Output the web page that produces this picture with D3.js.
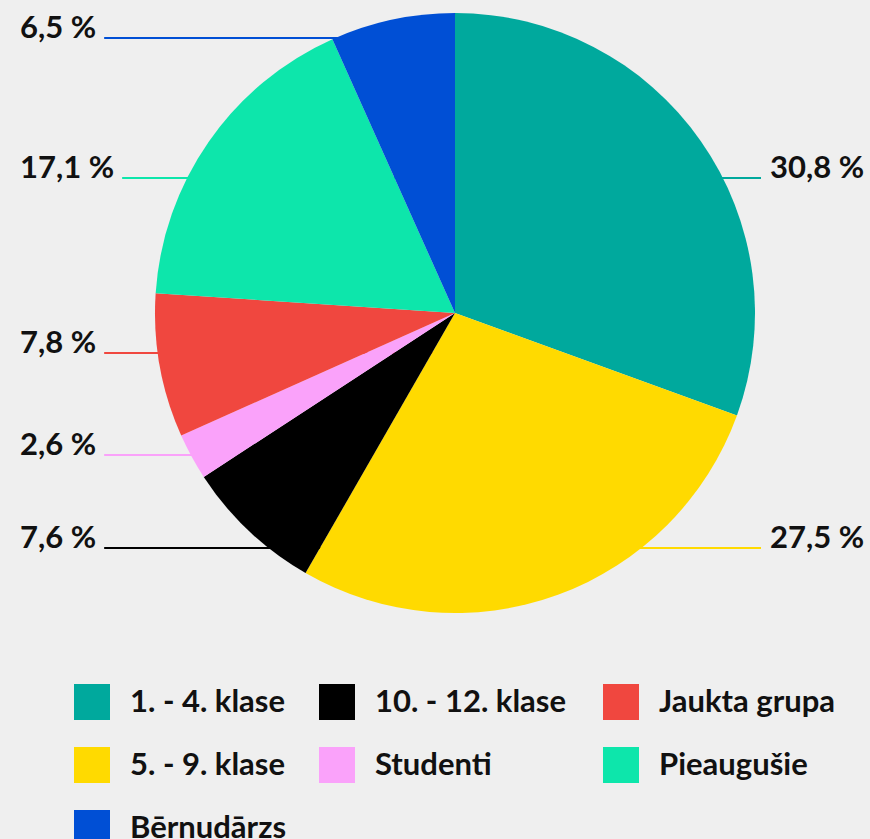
<!DOCTYPE html>
<html>
<head>
<meta charset="utf-8">
<script src="https://cdn.jsdelivr.net/npm/d3@7"></script>
<style>
  html, body { margin: 0; padding: 0; background: #efefef; }
  svg { display: block; font-family: Lato, "Noto Sans", sans-serif; font-weight: 700; }
</style>
</head>
<body>
<div id="chart"></div>
<script>
// data (clockwise from 12 o'clock)
var categories = ["1. - 4. klase", "5. - 9. klase", "10. - 12. klase", "Studenti", "Jaukta grupa", "Pieaugušie", "Bērnudārzs"];
// slice shares as drawn (measured from the slice edges)
var values = [30.55, 27.75, 7.5, 2.5, 7.75, 17.25, 6.7];
// printed labels
var valueLabels = ["30,8 %", "27,5 %", "7,6 %", "2,6 %", "7,8 %", "17,1 %", "6,5 %"];
var colors = ["#00a99d", "#ffda00", "#000000", "#faa2fa", "#f0473f", "#0de6ab", "#004fd5"];
var legendOrder = ["1. - 4. klase", "10. - 12. klase", "Jaukta grupa", "5. - 9. klase", "Studenti", "Pieaugušie", "Bērnudārzs"];

// label rows (offset from pie centre), placed by hand like the original
var labelOffsetY = [-135, 235, 235, 142, 40, -135, -275];

var width = 870, height = 839;
var cx = 455, cy = 313, radius = 300;

var svg = d3.select("#chart")
  .append("svg")
    .attr("width", width)
    .attr("height", height);

var pie = d3.pie().sort(null).value(d => d.value);
var arc = d3.arc().innerRadius(0).outerRadius(radius);

var data = categories.map((c, i) => ({
  name: c, value: values[i], label: valueLabels[i], color: colors[i], dy: labelOffsetY[i]
}));
var arcs = pie(data);

// leader lines + labels (drawn first so the pie sits on top)
var labels = svg.append("g");
arcs.forEach(a => {
  var mid = (a.startAngle + a.endAngle) / 2;
  var right = Math.sin(mid) > 0;
  var y = cy + a.data.dy;
  var t = labels.append("text")
    .attr("y", y)
    .attr("font-size", 31)
    .attr("fill", "#111")
    .text(a.data.label);
  if (right) {
    t.attr("x", 770).attr("text-anchor", "start");
    labels.insert("line", "text")
      .attr("x1", cx).attr("x2", 761)
      .attr("y1", y).attr("y2", y)
      .attr("stroke", a.data.color).attr("stroke-width", 2.2);
  } else {
    t.attr("x", 20).attr("text-anchor", "start");
    var len = t.node().getComputedTextLength();
    labels.insert("line", "text")
      .attr("x1", 20 + len + 8).attr("x2", cx)
      .attr("y1", y).attr("y2", y)
      .attr("stroke", a.data.color).attr("stroke-width", 2.2);
  }
});

svg.append("g")
  .attr("transform", "translate(" + cx + "," + cy + ")")
  .selectAll("path")
  .data(arcs)
  .enter()
  .append("path")
    .attr("d", arc)
    .attr("fill", d => d.data.color);

// legend
var colX = [74, 319, 603];
var rowY = [684, 747, 810];
var legend = svg.append("g");
legendOrder.forEach((name, i) => {
  var d = data.find(e => e.name === name);
  var x = colX[i % 3], y = rowY[Math.floor(i / 3)];
  legend.append("rect")
    .attr("x", x).attr("y", y)
    .attr("width", 36).attr("height", 36)
    .attr("fill", d.color);
  legend.append("text")
    .attr("x", x + 56)
    .attr("y", y + 28)
    .attr("font-size", 31)
    .attr("fill", "#111")
    .text(name);
});
</script>
</body>
</html>
